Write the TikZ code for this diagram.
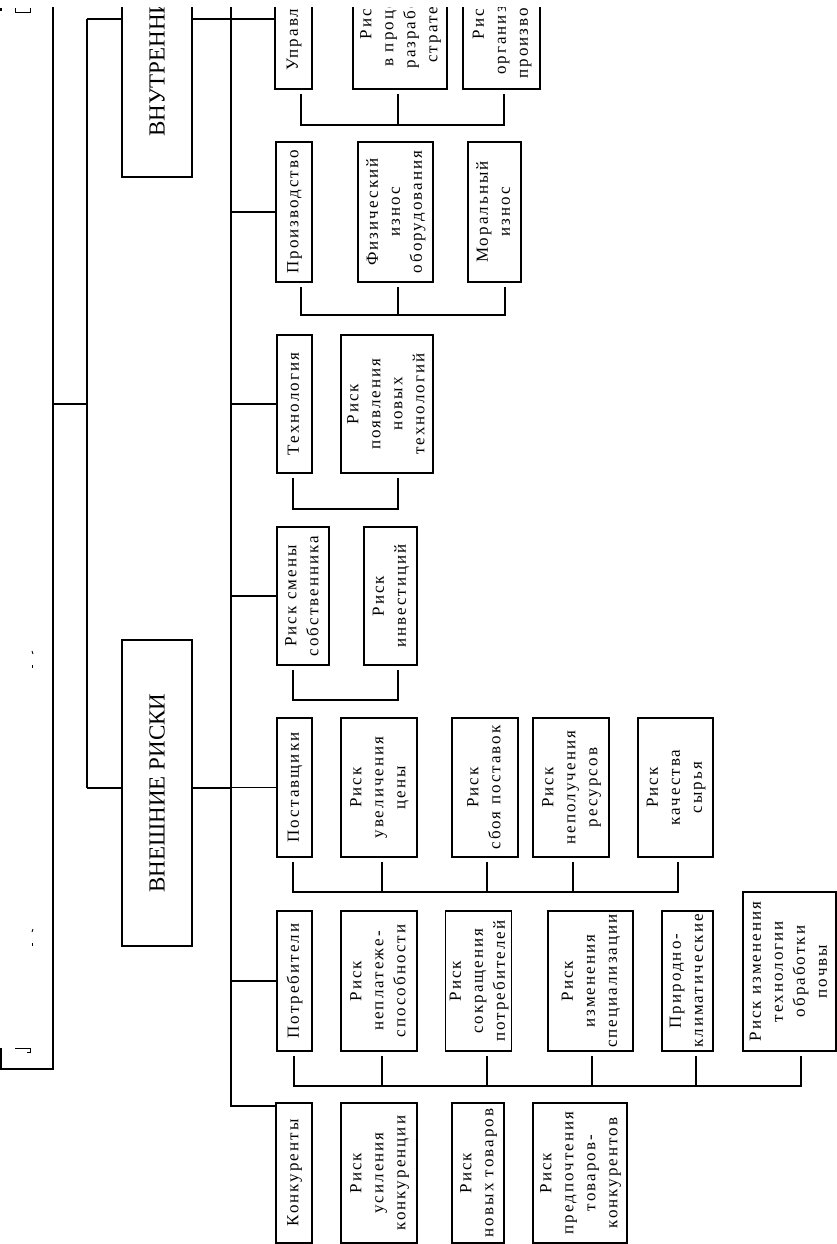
\documentclass[tikz,border=0pt]{standalone}
\usepackage{fontspec}
\setmainfont{Liberation Serif}
\newfontfamily\spfont[LetterSpace=12]{Liberation Serif}
\newcommand{\rt}[1]{\rotatebox{90}{\begin{tabular}{@{}c@{}}#1\end{tabular}}}
\newcommand{\bx}[6]{\node[rbox, minimum width={(#3-#2)*1pt}, minimum height={(#5-#4)*1pt}] (#1) at ({(#2+#3)/2},{(#4+#5)/2}) {\rt{#6}};}
\begin{document}
\begin{tikzpicture}[x=1pt,y=-1pt,line width=1.5pt,
  rbox/.style={draw, line width=1.6pt, inner sep=0pt, font=\spfont\fontsize{17}{22}\selectfont},
  title/.style={draw, line width=1.6pt, inner sep=0pt, font=\fontsize{23}{26}\selectfont},
  brk/.style={shorten <=4pt, shorten >=4pt},
  brkone/.style={shorten <=4pt},
  frag/.style={line width=0.8pt}]
\useasboundingbox (0,0) rectangle (837,1244);
\begin{scope}
\clip (0,8) rectangle (837,1246);
% main boxes
\node[title, minimum width=70pt, minimum height=316pt] (VN) at (157,19) {\rotatebox{90}{ВНУТРЕННИЕ РИСКИ}};
\node[title, minimum width=70pt, minimum height=306pt] (VE) at (157,793) {\rotatebox{90}{ВНЕШНИЕ РИСКИ}};
% Управление
\bx{U1}{275}{312}{-51}{89}{Управление}
\bx{U2}{353}{447}{-51}{89}{Риск\\в процессе\\разработки\\стратегии}
\bx{U3}{463}{540}{-51}{89}{Риск\\организации\\производства}
% Производство
\bx{R1}{276}{312}{142}{282}{Производство}
\bx{R2}{358}{433}{142}{282}{Физический\\износ\\оборудования}
\bx{R3}{468}{521}{142}{282}{Моральный\\износ}
% Технология
\bx{T1}{277}{312}{335}{473}{Технология}
\bx{T2}{341}{433}{335}{473}{Риск\\появления\\новых\\технологий}
% Собственник
\bx{S1}{277}{329}{527}{665}{Риск смены\\собственника}
\bx{S2}{364}{417}{527}{665}{Риск\\инвестиций}
% Поставщики
\bx{P1}{277}{312}{718}{857}{Поставщики}
\bx{P2}{341}{417}{718}{857}{Риск\\увеличения\\цены}
\bx{P3}{452}{518}{718}{857}{Риск\\сбоя поставок}
\bx{P4}{533}{609}{718}{857}{Риск\\неполучения\\ресурсов}
\bx{P5}{638}{713}{718}{857}{Риск\\качества\\сырья}
% Потребители
\bx{C1}{277}{312}{911}{1051}{Потребители}
\bx{C2}{341}{417}{911}{1051}{Риск\\неплатеже-\\способности}
\bx{C3}{446}{511}{911}{1051}{Риск\\сокращения\\потребителей}
\bx{C4}{548}{633}{911}{1051}{Риск\\изменения\\специализации}
\bx{C5}{662}{713}{911}{1051}{Природно-\\климатические}
\bx{C6}{743}{836}{892}{1051}{Риск изменения\\технологии\\обработки\\почвы}
% Конкуренты
\bx{K1}{276}{312}{1103}{1243}{Конкуренты}
\bx{K2}{341}{417}{1103}{1243}{Риск\\усиления\\конкуренции}
\bx{K3}{452}{504}{1103}{1243}{Риск\\новых товаров}
\bx{K4}{533}{627}{1103}{1243}{Риск\\предпочтения\\товаров-\\конкурентов}
% left frame
\coordinate (L0) at (53,0);
\coordinate (L1) at (53,1069);
\coordinate (L2) at (1,1069);
\coordinate (L3) at (1,1048);
\draw (L0) -- (L1) -- (L2) -- (L3);
\coordinate (Lm) at (53,404);
\coordinate (M) at (87,404);
\draw (Lm) -- (M);
\coordinate (Mt) at (87,19);
\coordinate (Mb) at (87,788);
\draw (Mt) -- (Mb);
\draw (Mt) -- (Mt -| VN.west);
\draw (Mb) -- (Mb -| VE.west);
% spine
\coordinate (S0) at (231,0);
\coordinate (Sk) at (231,1106);
\draw (S0) -- (Sk) -- (Sk -| K1.west);
\draw (VN.east) -- (VN.east -| S0);
\draw (Mb -| VE.east) -- (Mb -| S0);
\foreach \b in {U1,R1,T1,S1,P1,C1}{\draw (\b.west -| S0) -- (\b.west);}
% brackets U
\coordinate (bU) at (0,125);
\coordinate (uA) at (301,0); \coordinate (uB) at (398,0); \coordinate (uC) at (504,0);
\draw[brk] (U1.south -| uA) -- (uA |- bU) -- (uC |- bU) -- (U3.south -| uC);
\draw[brkone] (U2.south -| uB) -- (uB |- bU);
% brackets R
\coordinate (bR) at (0,315);
\coordinate (rA) at (301,0); \coordinate (rB) at (398,0); \coordinate (rC) at (505,0);
\draw[brk] (R1.south -| rA) -- (rA |- bR) -- (rC |- bR) -- (R3.south -| rC);
\draw[brkone] (R2.south -| rB) -- (rB |- bR);
% brackets T
\coordinate (bT) at (0,509);
\coordinate (tA) at (293,0); \coordinate (tB) at (398,0);
\draw[brk] (T1.south -| tA) -- (tA |- bT) -- (tB |- bT) -- (T2.south -| tB);
% brackets S
\coordinate (bS) at (0,700);
\coordinate (sA) at (293,0); \coordinate (sB) at (398,0);
\draw[brk] (S1.south -| sA) -- (sA |- bS) -- (sB |- bS) -- (S2.south -| sB);
% brackets P
\coordinate (bP) at (0,892);
\coordinate (pA) at (293,0); \coordinate (pB) at (382,0); \coordinate (pC) at (487,0);
\coordinate (pD) at (573,0); \coordinate (pE) at (678,0);
\draw[brk] (P1.south -| pA) -- (pA |- bP) -- (pE |- bP) -- (P5.south -| pE);
\draw[brkone] (P2.south -| pB) -- (pB |- bP);
\draw[brkone] (P3.south -| pC) -- (pC |- bP);
\draw[brkone] (P4.south -| pD) -- (pD |- bP);
% brackets C
\coordinate (bC) at (0,1086);
\coordinate (cA) at (294,0); \coordinate (cB) at (382,0); \coordinate (cC) at (487,0);
\coordinate (cD) at (592,0); \coordinate (cE) at (696,0); \coordinate (cF) at (801,0);
\draw[brk] (C1.south -| cA) -- (cA |- bC) -- (cF |- bC) -- (C6.south -| cF);
\draw[brkone] (C2.south -| cB) -- (cB |- bC);
\draw[brkone] (C3.south -| cC) -- (cC |- bC);
\draw[brkone] (C4.south -| cD) -- (cD |- bC);
\draw[brkone] (C5.south -| cE) -- (cE |- bC);
% fragments
\fill (0,8) rectangle (2,11);
\draw[frag] (15,8) -- (15,12) -- (30,12) -- (30,8);
\draw[frag] (15,1048) -- (30,1048) -- (30,1052) -- (27,1052);
\draw[frag] (32,651) -- (33,654);
\draw[frag] (32,665) -- (32,668);
\draw[frag] (33,929) -- (32,932);
\draw[frag] (32,943) -- (32,946);
\end{scope}
\end{tikzpicture}
\end{document}
